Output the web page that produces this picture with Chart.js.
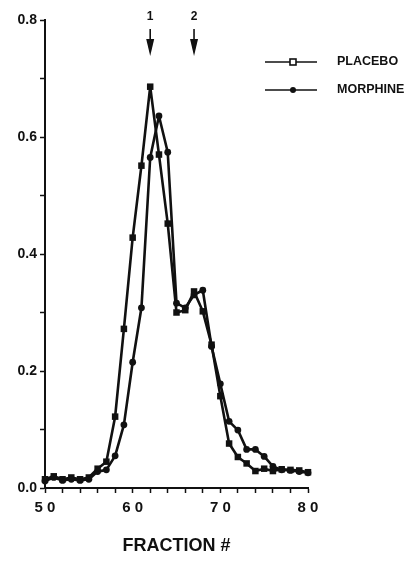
<!DOCTYPE html>
<html><head><meta charset="utf-8">
<script src="https://cdn.jsdelivr.net/npm/chart.js@4"></script>
<style>html,body{margin:0;padding:0;background:#fff}#wrap{width:407px;height:563px;position:relative}</style>
</head><body><div id="wrap"><canvas id="c"></canvas></div>
<script>
const fractions = [50,51,52,53,54,55,56,57,58,59,60,61,62,63,64,65,66,67,68,69,70,71,72,73,74,75,76,77,78,79,80];
const placebo  = [0.015,0.020,0.015,0.018,0.015,0.018,0.033,0.045,0.122,0.272,0.428,0.551,0.686,0.570,0.452,0.300,0.304,0.336,0.302,0.245,0.157,0.076,0.053,0.042,0.029,0.033,0.029,0.032,0.031,0.030,0.027];
const morphine = [0.012,0.018,0.013,0.015,0.013,0.015,0.028,0.031,0.055,0.108,0.215,0.308,0.565,0.636,0.574,0.316,0.308,0.330,0.338,0.242,0.178,0.114,0.099,0.066,0.066,0.054,0.037,0.031,0.030,0.028,0.026];
const seriesNames = ['PLACEBO','MORPHINE'];
const xTickLabels = {50:'5 0',60:'6 0',70:'7 0',80:'8 0'};
const yTickLabels = {0:'0.0',2:'0.2',4:'0.4',6:'0.6',8:'0.8'};
const arrowFractions = [62,67];
const arrowLabels = ['1','2'];
const xTitle = 'FRACTION #';

const INK = '#111';
const FONT = '"Liberation Sans", Arial, Helvetica, sans-serif';

const overlay = {
  id: 'overlay',
  afterDraw(chart) {
    const {ctx, scales: {x}} = chart;
    ctx.save();
    ctx.fillStyle = INK; ctx.strokeStyle = INK;
    arrowFractions.forEach((f, i) => {
      const px = x.getPixelForValue(f);
      ctx.font = 'bold 12px ' + FONT;
      ctx.textAlign = 'center'; ctx.textBaseline = 'middle';
      ctx.fillText(arrowLabels[i], px, 17);
      ctx.lineWidth = 1.6;
      ctx.beginPath(); ctx.moveTo(px, 29); ctx.lineTo(px, 44); ctx.stroke();
      ctx.beginPath(); ctx.moveTo(px - 4, 39); ctx.lineTo(px + 4, 39); ctx.lineTo(px, 56); ctx.closePath(); ctx.fill();
    });
    chart.data.datasets.forEach((ds, i) => {
      const y = 62 + i * 28;
      ctx.lineWidth = 1.5;
      ctx.beginPath(); ctx.moveTo(265, y); ctx.lineTo(317, y); ctx.stroke();
      if (ds.pointStyle === 'rect') {
        ctx.fillStyle = '#fff';
        ctx.fillRect(290, y - 3, 6, 6);
        ctx.lineWidth = 1.6;
        ctx.strokeRect(290, y - 3, 6, 6);
        ctx.fillStyle = INK;
      } else {
        ctx.beginPath(); ctx.arc(293, y, 3, 0, Math.PI * 2); ctx.fill();
      }
      ctx.font = 'bold 12.5px ' + FONT;
      ctx.textAlign = 'left'; ctx.textBaseline = 'middle';
      ctx.fillText(ds.label, 337, y);
    });
    ctx.restore();
  }
};

const mk = (vals) => fractions.map((f, i) => ({x: f, y: vals[i]}));

new Chart(document.getElementById('c'), {
  type: 'line',
  data: {
    datasets: [
      {label: seriesNames[0], data: mk(placebo), borderColor: INK, backgroundColor: INK, borderWidth: 2.6,
       borderJoinStyle: 'round', pointStyle: 'rect', pointRadius: 4.6, pointBorderWidth: 0, tension: 0, clip: false},
      {label: seriesNames[1], data: mk(morphine), borderColor: INK, backgroundColor: INK, borderWidth: 2.6,
       borderJoinStyle: 'round', pointStyle: 'circle', pointRadius: 3.4, pointBorderWidth: 0, tension: 0, clip: false}
    ]
  },
  options: {
    responsive: true, maintainAspectRatio: false, animation: false,
    layout: {padding: {top: 20, right: 99, bottom: 0, left: 0}},
    plugins: {legend: {display: false}, tooltip: {enabled: false}},
    scales: {
      x: {
        type: 'linear', min: 50, max: 80,
        border: {display: true, color: INK, width: 2},
        grid: {display: true, drawOnChartArea: false, drawTicks: true, tickLength: 5, tickColor: INK, tickWidth: 1.5},
        ticks: {stepSize: 2, autoSkip: false, maxRotation: 0, color: INK, padding: 6,
                font: {family: FONT, size: 15, weight: 'bold'},
                callback: (v) => xTickLabels[v] || ''},
        title: {display: true, text: xTitle, color: INK, font: {family: FONT, size: 18, weight: 'bold'}, padding: {top: 0, bottom: 6}},
        afterFit: (s) => { s.height = 75; }
      },
      y: {
        min: 0, max: 0.8,
        border: {display: true, color: INK, width: 2},
        grid: {display: true, drawOnChartArea: false, drawTicks: true, tickLength: 5, tickColor: INK, tickWidth: 1.5},
        ticks: {stepSize: 0.1, autoSkip: false, color: INK, padding: 3,
                font: {family: FONT, size: 14, weight: 'bold'},
                callback: (v) => yTickLabels[Math.round(v * 10)] || ''},
        afterFit: (s) => { s.width = 45; }
      }
    }
  },
  plugins: [overlay]
});
</script>
</body></html>
